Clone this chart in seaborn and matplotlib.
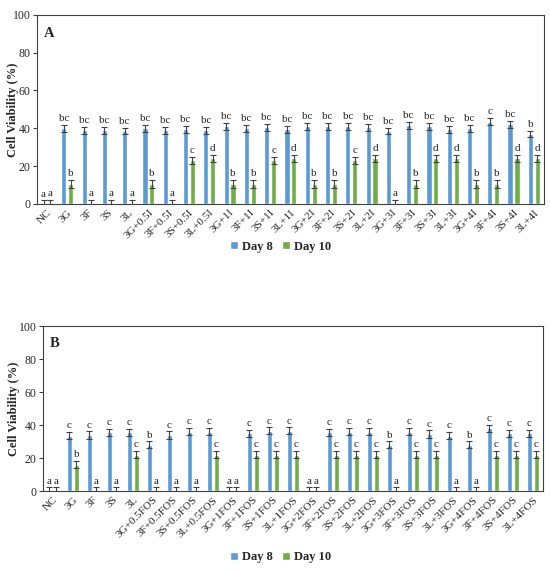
import numpy as np
import pandas as pd
import seaborn as sns
import matplotlib.pyplot as plt

# treatments for panel A (inulin) and panel B (FOS)
base = ['NC', '3G', '3F', '3S', '3L']
combo_a = [f'{s}+{d}I' for d in ['0.5', '1', '2', '3', '4'] for s in ['3G', '3F', '3S', '3L']]
combo_b = [f'{s}+{d}FOS' for d in ['0.5', '1', '2', '3', '4'] for s in ['3G', '3F', '3S', '3L']]
labels_a = base + combo_a
labels_b = base + combo_b

# panel A values
a_day8 = [0, 40, 39, 39, 38.5, 40, 39, 39.5, 39, 41, 40, 40.5, 39.5,
          41, 41, 41, 40.5, 38.5, 41.5, 41, 39.5, 40, 43.5, 42, 37]
a_day10 = [0, 10.5, 0, 0, 0, 10.5, 0, 23, 24, 10.5, 10.5, 23, 24,
           10.5, 10.5, 23, 24, 0, 10.5, 24, 24, 10.5, 10.5, 24, 24]
a_err8 = [1.8] * 25
a_err10 = [2.0] * 25
a_let8 = ['a'] + ['bc'] * 21 + ['c', 'bc', 'b']
a_let10 = ['a', 'b', 'a', 'a', 'a', 'b', 'a', 'c', 'd', 'b', 'b', 'c', 'd',
           'b', 'b', 'c', 'd', 'a', 'b', 'd', 'd', 'b', 'b', 'd', 'd']

# panel B values
b_day8 = [0, 33.5, 34, 35.5, 35.5, 28, 34, 36, 36, 0, 35, 36.5, 36.5,
          0, 35.5, 36, 36, 28, 36, 34.5, 33.5, 28, 38, 35, 35]
b_day10 = [0, 16, 0, 0, 22, 0, 0, 0, 22, 0, 22, 22, 22,
           0, 22, 22, 22, 0, 22, 22, 0, 0, 22, 22, 22]
b_err8 = [2.2] * 25
b_err10 = [2.2] * 25
b_let8 = ['a', 'c', 'c', 'c', 'c', 'b', 'c', 'c', 'c', 'a', 'c', 'c', 'c',
          'a', 'c', 'c', 'c', 'b', 'c', 'c', 'c', 'b', 'c', 'c', 'c']
b_let10 = ['a', 'b', 'a', 'a', 'c', 'a', 'a', 'a', 'c', 'a', 'c', 'c', 'c',
           'a', 'c', 'c', 'c', 'a', 'c', 'c', 'a', 'a', 'c', 'c', 'c']

days = ['Day 8', 'Day 10']
colors = ['#5B9BD5', '#70AD47']
edge = '#404040'

sns.set_style('white')
plt.rcParams['font.family'] = ['Liberation Serif', 'DejaVu Serif']


def panel(ax, labels, v8, v10, e8, e10, l8, l10, tag, leg_y, lab_x):
    df = pd.DataFrame({'Treatment': labels * 2,
                       'Viability': v8 + v10,
                       'Day': [days[0]] * len(labels) + [days[1]] * len(labels)})
    sns.barplot(data=df, x='Treatment', y='Viability', hue='Day', order=labels,
                hue_order=days, palette=colors, width=0.68, gap=0.25,
                errorbar=None, saturation=1, ax=ax)
    for cont, errs, lets in zip(ax.containers, [e8, e10], [l8, l10]):
        xs = [p.get_x() + p.get_width() / 2 for p in cont.patches]
        hs = [p.get_height() for p in cont.patches]
        ax.errorbar(xs, hs, yerr=errs, fmt='none', ecolor=edge, elinewidth=0.8,
                    capsize=2, capthick=0.8, zorder=3)
        for x, h, e, t in zip(xs, hs, errs, lets):
            ax.text(x, h + e + 1.0, t, ha='center', va='bottom', fontsize=8)
    ax.set_ylim(0, 100)
    ax.set_xlim(-0.5, len(labels) - 0.5)
    ax.set_yticks(range(0, 101, 20))
    ax.set_xlabel('')
    ax.set_ylabel('Cell Viability (%)', fontsize=9, fontweight='bold')
    ax.yaxis.set_label_coords(lab_x, 0.5)
    ax.tick_params(axis='y', length=3, width=0.8, color=edge, labelsize=8.5, pad=1.5, direction='out', left=True)
    ax.tick_params(axis='x', length=0, labelsize=8, pad=3)
    plt.setp(ax.get_xticklabels(), rotation=45, ha='right', rotation_mode='anchor')
    for s in ax.spines.values():
        s.set_color(edge)
        s.set_linewidth(0.8)
    ax.text(0.014, 0.935, tag, transform=ax.transAxes, fontsize=10.5, fontweight='bold',
            va='top', ha='left')
    ax.legend(loc='center', bbox_to_anchor=(0.51, leg_y), bbox_transform=fig.transFigure,
              ncol=2, frameon=False, handlelength=0.6, handleheight=0.6,
              handletextpad=0.3, columnspacing=0.8,
              prop={'weight': 'bold', 'size': 9})


fig = plt.figure(figsize=(5.5, 5.71), dpi=100)
ax_a = fig.add_axes([0.067, 0.643, 0.922, 0.331])
ax_b = fig.add_axes([0.078, 0.140, 0.909, 0.289])

panel(ax_a, labels_a, a_day8, a_day10, a_err8, a_err10, a_let8, a_let10, 'A', 0.568, -0.036)
panel(ax_b, labels_b, b_day8, b_day10, b_err8, b_err10, b_let8, b_let10, 'B', 0.024, -0.046)

plt.savefig('out.png', dpi=100)
